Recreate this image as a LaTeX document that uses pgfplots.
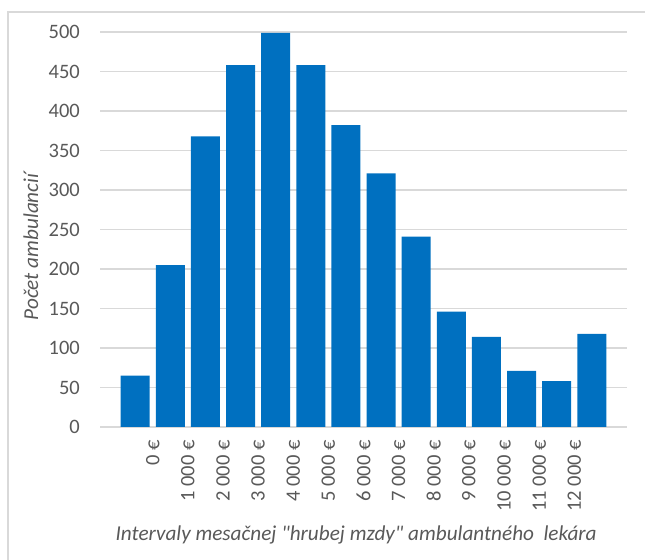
\documentclass[border=0pt]{standalone}
\usepackage{pgfplots}
\pgfplotsset{compat=1.18}
\usepackage{fontspec}
\setmainfont{Carlito}[Ligatures=TeXOff]
\definecolor{barblue}{HTML}{0070C0}
\definecolor{gridgray}{HTML}{D9D9D9}
\definecolor{textgray}{HTML}{595959}
\newcommand{\chartfont}{\fontsize{20.5bp}{24bp}\selectfont}
\newcommand{\titlefont}{\fontsize{21.2bp}{25bp}\selectfont}
\begin{document}
\begin{tikzpicture}
\path[use as bounding box] (0bp,0bp) rectangle (645bp,560bp);
% outer chart frame (only top and left edges visible in the reference)
\draw[gridgray, line width=1.2bp] (8bp,0bp) -- (8bp,548bp) -- (645bp,548bp);
\begin{axis}[
    at={(100bp,133bp)}, anchor=south west,
    scale only axis,
    width=527bp, height=395bp,
    xmin=-1, xmax=14,
    ymin=0, ymax=500,
    ytick={0,50,...,500},
    xtick={0.5,1.5,...,12.5},
    xticklabels={0~€, 1~000~€, 2~000~€, 3~000~€, 4~000~€, 5~000~€, 6~000~€,
                 7~000~€, 8~000~€, 9~000~€, 10~000~€, 11~000~€, 12~000~€},
    axis x line=bottom, axis y line=left,
    x axis line style={draw=gridgray, line width=1.5bp, -},
    y axis line style={draw=none},
    major tick length=0pt,
    ymajorgrids,
    grid style={draw=gridgray, line width=1.5bp},
    /pgf/number format/assume math mode=true,
    tick label style={font=\chartfont, text=textgray},
    y tick label style={anchor=east, inner ysep=0pt, inner xsep=20bp},
    x tick label style={rotate=90, anchor=east, inner ysep=0pt, inner xsep=13bp},
    ylabel={Počet ambulancií},
    xlabel={Intervaly mesačnej "hrubej mzdy" ambulantného\ \ lekára},
    label style={font=\titlefont\itshape, text=textgray},
    ylabel style={at={(axis description cs:-0.131,0.456)}, anchor=center},
    xlabel style={at={(axis description cs:0.486,-0.273)}, anchor=center},
    ybar, bar width=29bp, bar shift=0pt,
]
\addplot[fill=barblue, draw=none] coordinates {
    (0,65) (1,205) (2,368) (3,458) (4,499) (5,458) (6,382)
    (7,321) (8,241) (9,146) (10,114) (11,71) (12,58) (13,118)
};
\end{axis}
\end{tikzpicture}
\end{document}
